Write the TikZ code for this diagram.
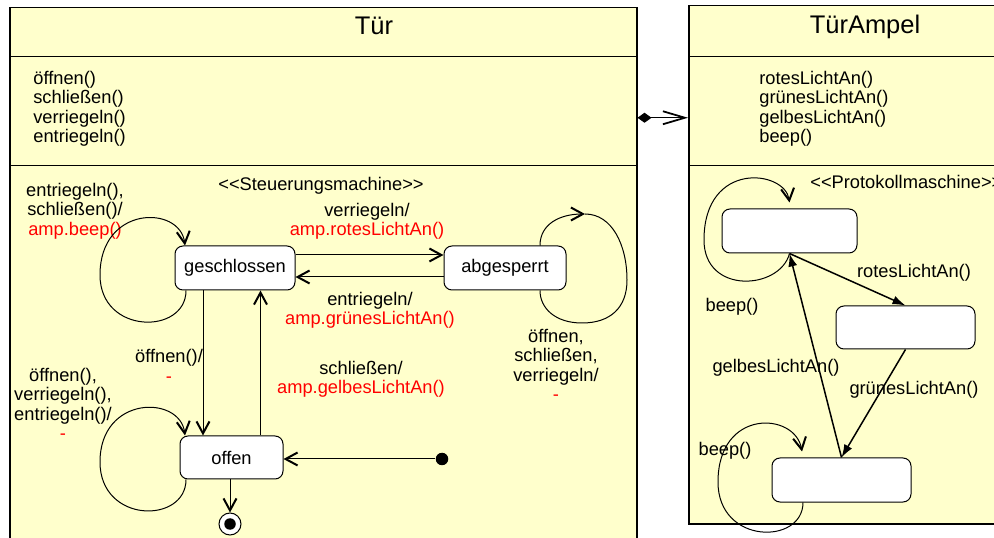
\documentclass[tikz,border=0pt]{standalone}
\usepackage{fontspec}
\setmainfont{Liberation Sans}
\usepackage{tikz}
\usetikzlibrary{arrows.meta}

\definecolor{umlyellow}{HTML}{FFFFCC}

\begin{document}
\begin{tikzpicture}[x=0.2mm, y=-0.2mm,
				 compartment/.style={rectangle, draw=black, fill=umlyellow, line width=0.3mm, anchor=north west, inner sep=0},
				 statenode/.style={rectangle, rounded corners=1.6mm, draw=black, fill=white, line width=0.2mm, minimum height=8.8mm, font=\fontsize{10.4}{11}\selectfont},
				 textnode/.style={inner sep=0, font=\fontsize{10.4}{11}\selectfont},
				 titlenode/.style={inner sep=0, font=\fontsize{14.5}{16}\selectfont},
				 initialnode/.style={circle, fill=black, minimum size=2.5mm, inner sep=0},
				 finalnode/.style={circle, draw=black, fill=white, line width=0.2mm, minimum size=4.4mm, inner sep=0, path picture={\fill[black] (path picture bounding box.center) circle (1.15mm);}},
				 transition/.style={line width=0.2mm, -{Straight Barb[length=2.4mm, width=2.6mm, line width=0.4mm]}},
				 protoarrow/.style={line width=0.3mm, -{Latex[length=2.6mm, width=1.8mm]}},
				 ]
				 \useasboundingbox (0, 0) rectangle (994, 538);
				 % Classes
				 \node[compartment, minimum width=125.4mm, minimum height=9.8mm]	(tuer_name)		at (9, 7)		{};
				 \node[compartment, minimum width=125.4mm, minimum height=21.8mm]	(tuer_ops)		at (9, 56)		{};
				 \node[compartment, minimum width=125.4mm, minimum height=79mm]	(tuer_states)	at (9, 165)		{};
				 \node[compartment, minimum width=71.4mm, minimum height=10.2mm]	(ampel_name)	at (688, 5)		{};
				 \node[compartment, minimum width=71.4mm, minimum height=21.8mm]	(ampel_ops)		at (688, 56)	{};
				 \node[compartment, minimum width=71.4mm, minimum height=71.6mm]	(ampel_states)	at (688, 165)	{};
				 \node[titlenode, anchor=base]          	(tuer_title)        	at (374, 35)   		{Tür};
				 \node[titlenode, anchor=base]          	(ampel_title)       	at (865, 34)   		{TürAmpel};
				 \node[textnode, align=left, anchor=north west]	(tuer_ops_text)		at (33, 71)		{öffnen()\\schließen()\\verriegeln()\\entriegeln()};
				 \node[textnode, align=left, anchor=north west]	(ampel_ops_text)	at (759, 71)	{rotesLichtAn()\\grünesLichtAn()\\gelbesLichtAn()\\beep()};

				 % Nodes
				 \node[textnode, align=center]          	(tuer_stereo)        	at (321, 186)   	{<{}<Steuerungsmachine>{}>};
				 \node[statenode, minimum width=24mm]      	(state_geschlossen)   	at (235, 268)   	{geschlossen};
				 \node[statenode, minimum width=24.4mm]    	(state_abgesperrt)    	at (505, 268)   	{abgesperrt};
				 \node[statenode, minimum width=20.6mm, minimum height=8.6mm]	(state_offen)	at (231.5, 457.5)	{offen};
				 \node[initialnode]                      	(state_initial)      	at (442, 459)   	{};
				 \node[finalnode]                        	(state_final)        	at (230, 524)   	{};
				 \node[textnode, align=center]          	(label_gesch_loop)   	at (75, 211)    	{entriegeln(),\\schließen()/\\\textcolor{red}{amp.beep()}};
				 \node[textnode, align=center]          	(label_verriegeln)   	at (367, 221)   	{verriegeln/\\\textcolor{red}{amp.rotesLichtAn()}};
				 \node[textnode, align=center]          	(label_entriegeln)   	at (370, 310)   	{entriegeln/\\\textcolor{red}{amp.grünesLichtAn()}};
				 \node[textnode, align=center]          	(label_oeffnen)      	at (169, 366)   	{öffnen()/\\\textcolor{red}{-}};
				 \node[textnode, align=center]          	(label_schliessen)   	at (361, 379)   	{schließen/\\\textcolor{red}{amp.gelbesLichtAn()}};
				 \node[textnode, align=center]          	(label_offen_loop)   	at (63, 404)    	{öffnen(),\\verriegeln(),\\entriegeln()/\\\textcolor{red}{-}};
				 \node[textnode, align=center]          	(label_abg_loop)     	at (556, 365)   	{öffnen,\\schließen,\\verriegeln/\\\textcolor{red}{-}};

				 \node[textnode, anchor=west]           	(ampel_stereo)       	at (810, 182)   	{<{}<Protokollmaschine>{}>};
				 \node[statenode, minimum width=27mm]      	(proto_a)            	at (789.5, 231) 	{};
				 \node[statenode, minimum width=27.8mm, minimum height=8.6mm]	(proto_b)	at (905.5, 327.5)	{};
				 \node[statenode, minimum width=27.8mm]    	(proto_c)            	at (841.5, 480) 	{};
				 \node[textnode]                        	(label_rot)          	at (914, 273)   	{rotesLichtAn()};
				 \node[textnode]                        	(label_gruen)        	at (914, 390)   	{grünesLichtAn()};
				 \node[textnode]                        	(label_gelb)         	at (776, 368)   	{gelbesLichtAn()};
				 \node[textnode]                        	(label_beep_a)       	at (732, 307)   	{beep()};
				 \node[textnode]                        	(label_beep_c)       	at (725, 451)   	{beep()};
				 \coordinate                            	(abg_loop_top)       	at (585, 214);

				 % Lines
				 \draw[transition] ([yshift=2.6mm]state_geschlossen.east) 		-- 	([yshift=2.6mm]state_abgesperrt.west);
				 \draw[transition] ([yshift=-1.8mm]state_abgesperrt.west) 		-- 	([yshift=-1.8mm]state_geschlossen.east);
				 \draw[transition] ([xshift=-6.4mm]state_geschlossen.south) 	-- 	([xshift=-6.4mm]state_geschlossen.south |- state_offen.north);
				 \draw[transition] ([xshift=5.8mm]state_offen.north) 			-- 	([xshift=5.8mm]state_offen.north |- state_geschlossen.south);
				 \draw[transition] (state_initial) 								-- 	(state_initial -| state_offen.east);
				 \draw[transition] (state_final.north |- state_offen.south) 	-- 	(state_final.north);
				 \draw[transition] ([xshift=-9.8mm]state_geschlossen.south) .. controls (186, 335) and (100, 335) .. (100, 275) .. controls (100, 205) and (180, 205) .. ([xshift=-10mm]state_geschlossen.north);
				 \draw[transition] ([xshift=-9.1mm]state_offen.south) .. controls (186, 524) and (100, 524) .. (100, 462) .. controls (100, 395) and (180, 395) .. ([xshift=-9.3mm]state_offen.north);
				 \draw[transition] ([xshift=7mm]state_abgesperrt.north) .. controls (540, 224) and (560, 214) .. (abg_loop_top);
				 \draw[line width=0.2mm] (abg_loop_top) .. controls (612, 214) and (627, 245) .. (627, 280) .. controls (627, 308) and (610, 323) .. (582, 323) .. controls (555, 323) and (540, 308) .. ([xshift=7mm]state_abgesperrt.south);
				 \draw[line width=0.2mm, {Diamond[length=2.8mm, width=2mm]}-{Straight Barb[length=4.4mm, width=2.6mm, line width=0.35mm]}] ([yshift=-1.3mm]tuer_ops.east) -- ([yshift=-1.3mm]ampel_ops.west);

				 \draw[protoarrow] (proto_a.south) 		-- 	(proto_b.north);
				 \draw[protoarrow] (proto_b.south) 		-- 	(proto_c.north);
				 \draw[protoarrow] (proto_c.north) 		-- 	(proto_a.south);
				 \draw[transition] (proto_a.south) .. controls (780, 290) and (704, 295) .. (704, 240) .. controls (704, 160) and (785, 170) .. ([yshift=1.2mm]proto_a.north);
				 \draw[transition] ([xshift=-7.7mm]proto_c.south) .. controls (803, 545) and (718, 545) .. (718, 482) .. controls (718, 408) and (795, 412) .. ([xshift=-7.9mm, yshift=1.2mm]proto_c.north);
			\end{tikzpicture}
\end{document}
